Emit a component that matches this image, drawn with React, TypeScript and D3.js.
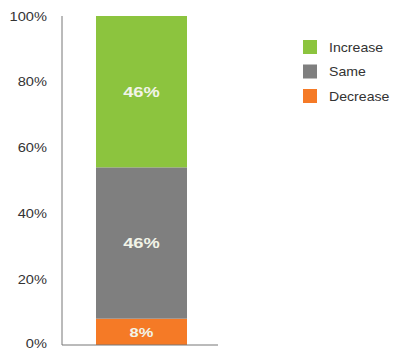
import React from "react";
import * as d3 from "d3";

const categories = ["All"];
const seriesNames = ["Decrease", "Same", "Increase"];
const decreaseValues = [8];
const sameValues = [46];
const increaseValues = [46];
const colors = ["#f57a26", "#7f7f7f", "#8cc43e"];
const yTicks = [0, 20, 40, 60, 80, 100];

const SX = 1.17;

function SText(props: any) {
  const { x, y, sx = SX, children, ...rest } = props;
  return (
    <text transform={`translate(${x},${y}) scale(${sx},1)`} {...rest}>
      {children}
    </text>
  );
}

export default function App() {
  const W = 394, H = 350;
  const y = d3.scaleLinear().domain([0, 100]).range([345, 16]);
  const x = d3.scaleBand().domain(categories).range([62, 221]).paddingInner(0).paddingOuter(0.3736);
  const data = categories.map((c, i) => ({
    cat: c,
    Decrease: decreaseValues[i],
    Same: sameValues[i],
    Increase: increaseValues[i],
  }));
  const stack = d3.stack<any>().keys(seriesNames)(data);
  const legendOrder = ["Increase", "Same", "Decrease"];
  return (
    <div style={{ position: "absolute", left: 0, top: 0 }}>
      <svg width={W} height={H} style={{ display: "block", fontFamily: "'Liberation Sans', Arial, sans-serif" }}>
        <rect width={W} height={H} fill="#fff" />
        {stack.map((s, si) =>
          s.map((d, di) => {
            const x0 = x(data[di].cat)!;
            const bw = x.bandwidth();
            const top = y(d[1]);
            const bot = y(d[0]);
            return (
              <g key={si + "-" + di}>
                <rect x={x0} y={top} width={bw} height={bot - top} fill={colors[si]} />
                <SText
                  x={x0 + bw / 2}
                  y={(top + bot) / 2}
                  sx={1.22}
                  dy="0.36em"
                  textAnchor="middle"
                  fill="#f2f4e8"
                  fontWeight="bold"
                  fontSize={si === 0 ? 13.5 : 15}
                >
                  {Math.round(d[1] - d[0]) + "%"}
                </SText>
              </g>
            );
          })
        )}
        <line x1={62} x2={62} y1={16} y2={345} stroke="#777" strokeWidth={1} />
        <line x1={62} x2={218} y1={345} y2={345} stroke="#777" strokeWidth={1} />
        {yTicks.map((t) => (
          <SText key={t} x={47} y={t === 0 ? y(t) - 2 : y(t)} dy="0.36em" textAnchor="end" fontSize={12.5} fill="#333">
            {t + "%"}
          </SText>
        ))}
        {legendOrder.map((n, i) => (
          <g key={n} transform={`translate(303, ${40 + i * 24.5})`}>
            <rect x={0} y={0} width={14} height={14} fill={colors[seriesNames.indexOf(n)]} />
            <SText x={26} y={7} sx={1.13} dy="0.36em" fontSize={12.5} fill="#333">
              {n}
            </SText>
          </g>
        ))}
      </svg>
    </div>
  );
}
